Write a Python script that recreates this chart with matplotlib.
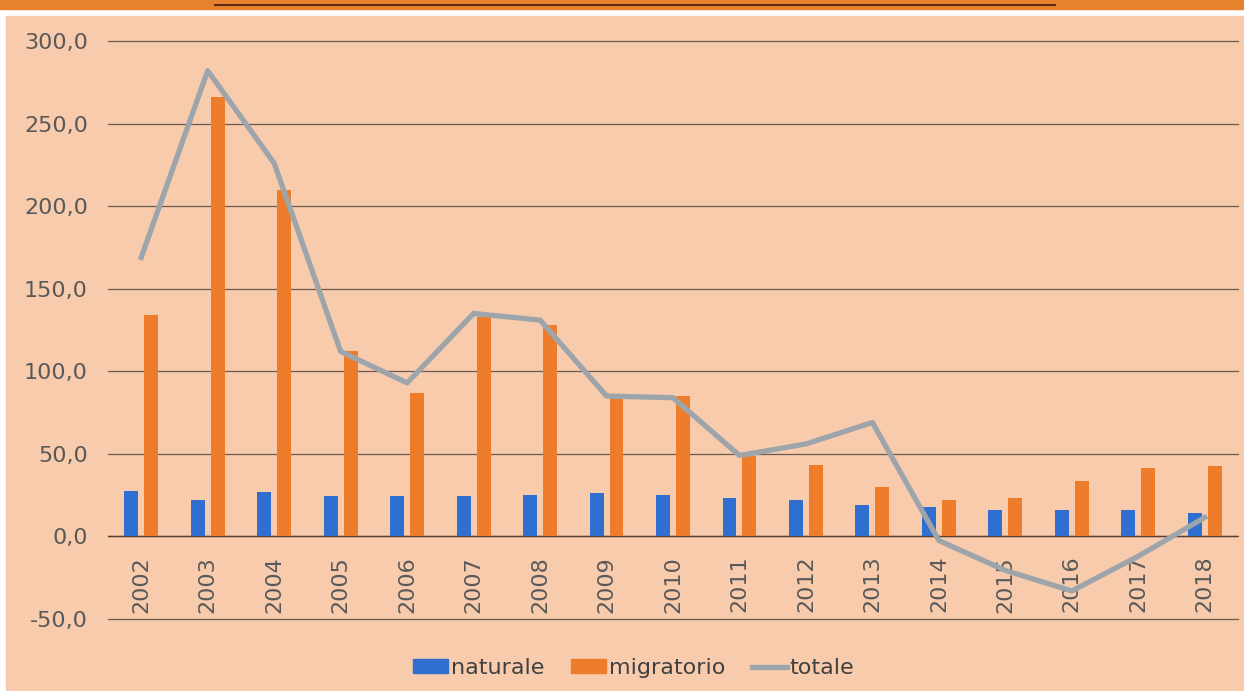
import numpy as np
import matplotlib
matplotlib.use("Agg")
import matplotlib.pyplot as plt
import matplotlib.transforms as mtrans
from matplotlib.patches import Rectangle, Patch
from matplotlib.lines import Line2D

plt.rcParams['font.family'] = ['DejaVu Sans']

years = ['2002', '2003', '2004', '2005', '2006', '2007', '2008', '2009', '2010',
         '2011', '2012', '2013', '2014', '2015', '2016', '2017', '2018']
naturale = [27.3, 21.8, 27.0, 24.4, 24.4, 24.4, 25.0, 26.0, 25.0,
            23.0, 22.0, 18.8, 18.0, 16.3, 16.3, 15.8, 13.9]
migratorio = [134.0, 266.0, 210.0, 112.0, 87.0, 133.0, 128.0, 84.0, 85.0,
              49.0, 43.0, 30.0, 22.0, 23.0, 33.3, 41.4, 42.4]
totale = [169.0, 282.0, 226.0, 112.0, 93.0, 135.0, 131.0, 85.0, 84.0,
          49.0, 56.0, 69.0, -2.5, -20.6, -33.0, -12.0, 11.5]
yticks = [-50, 0, 50, 100, 150, 200, 250, 300]

bg = '#F8CBAD'
c_nat = '#2E6FD0'
c_mig = '#EE7D2B'
c_tot = '#9DA5AB'

fig = plt.figure(figsize=(12.44, 6.91), dpi=100)
fig.patch.set_facecolor('white')

# page decoration: orange band on top, peach panel
fig.patches.append(Rectangle((0, 1 - 9 / 691), 1, 9 / 691, transform=fig.transFigure,
                             color='#E8812E', zorder=-2))
fig.lines.append(Line2D([215 / 1244, 1055 / 1244], [1 - 5 / 691, 1 - 5 / 691],
                        transform=fig.transFigure, color='#5A2A10', lw=1.5, zorder=-1))
fig.patches.append(Rectangle((6 / 1244, 0), 1, 1 - 16 / 691, transform=fig.transFigure,
                             color=bg, zorder=-2))

ax = fig.add_axes([108 / 1244, 1 - 619 / 691, 1130 / 1244, 578 / 691])
ax.set_facecolor('none')

x = np.arange(len(years))
w = 0.21
ax.bar(x - 0.15, naturale, w, color=c_nat, zorder=3)
ax.bar(x + 0.15, migratorio, w, color=c_mig, zorder=3)
ax.plot(x, totale, color=c_tot, lw=3.8, zorder=4)

ax.set_xlim(-0.5, len(years) - 0.5)
ax.set_ylim(-50, 300)
ax.set_yticks(yticks)
ax.set_yticklabels([f'{v:.1f}'.replace('.', ',') for v in yticks])
ax.grid(axis='y', color='#6B5A50', lw=0.9, zorder=1)
for gl in ax.get_ygridlines():
    gl.set_clip_on(False)
ax.axhline(0, color='#5A4030', lw=1.0, zorder=2)
ax.set_axisbelow(True)

ax.set_xticks(x)
ax.set_xticklabels(years, rotation=90)
ax.xaxis.set_ticks_position('none')
ax.yaxis.set_ticks_position('none')
for s in ax.spines.values():
    s.set_visible(False)

ax.tick_params(axis='y', labelsize=16, labelcolor='#595959', pad=11)
ax.tick_params(axis='x', labelsize=16, labelcolor='#595959', pad=0)
# year labels sit just below the zero line
offset = mtrans.ScaledTranslation(0, (619 - 551) / 100, fig.dpi_scale_trans)
for lab in ax.get_xticklabels():
    lab.set_transform(lab.get_transform() + offset)

handles = [Patch(color=c_nat, label='naturale'),
           Patch(color=c_mig, label='migratorio'),
           Line2D([], [], color=c_tot, lw=3.8, label='totale')]
ax.legend(handles=handles, loc='center', bbox_to_anchor=(0.465, -0.085), ncol=3,
          frameon=False, fontsize=16, labelcolor='#404040', handlelength=1.6,
          handletextpad=0.1, columnspacing=1.2, handleheight=0.6)

fig.savefig('out.png', dpi=100, facecolor=fig.get_facecolor())
